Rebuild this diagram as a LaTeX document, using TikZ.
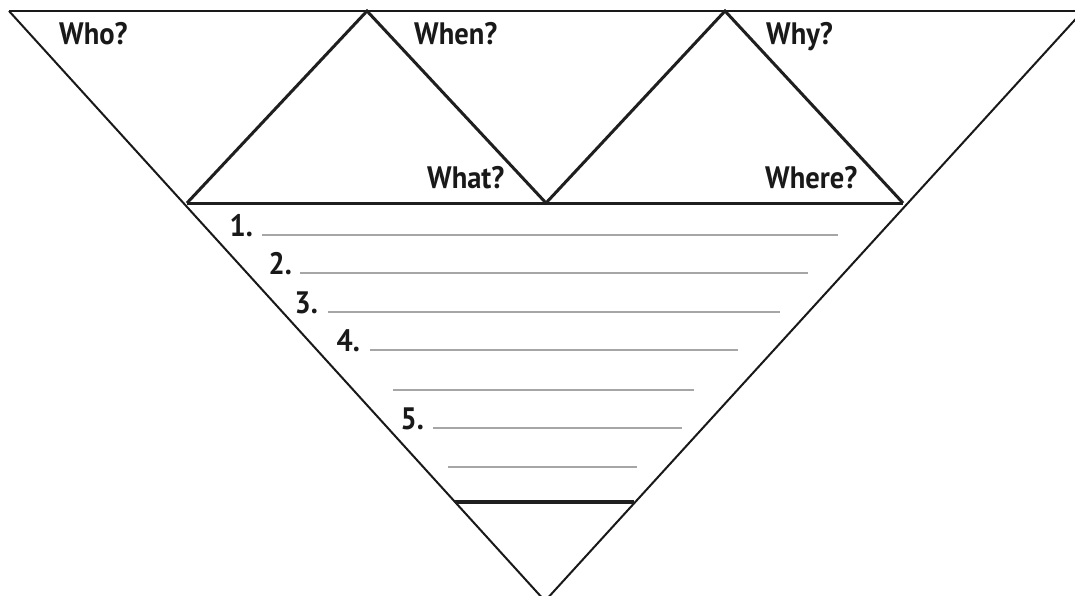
\documentclass[tikz,border=0pt]{standalone}
\usepackage{fontspec}
\newfontfamily\lab[FakeStretch=0.92]{PT Sans}
\begin{document}
\begin{tikzpicture}[x=1pt,y=-1pt,
  outer/.style={line width=2pt,draw=black!90},
  inner/.style={line width=3pt,draw=black!88},
  writeline/.style={line width=1.4pt,draw=black!35},
  lbl/.style={font=\lab\bfseries\fontsize{31}{31}\selectfont,inner sep=0pt,text=black!90},
  num/.style={lbl,anchor=base east}]
\useasboundingbox (0,0) rectangle (1075,595);
\fill[white] (0,0) rectangle (1075,595);
% vertices
\coordinate (TL) at (9,11);
\coordinate (TR) at (1083,11);
\coordinate (AP) at (545,601);
\coordinate (M1) at (187,203);
\coordinate (P1) at (367,11);
\coordinate (M2) at (546,203);
\coordinate (P2) at (725,11);
\coordinate (M3) at (903,203);
\coordinate (B1) at (455,502);
\coordinate (B2) at (634,502);
% outer triangle
\draw[outer] (TL) -- (TR);
\draw[outer] (TL) -- (AP) -- (TR);
% zigzag and middle line
\draw[inner,line join=miter] (M1) -- (P1) -- (M2) -- (P2) -- (M3);
\draw[inner] (M1) -- (M3);
\draw[line width=3.5pt,draw=black!88] (B1) -- (B2);
% labels
\node[lbl,anchor=base west] (who) at (59,44) {Who?};
\node[lbl,anchor=base west] (when) at (414,44) {When?};
\node[lbl,anchor=base west] (why) at (766,44) {Why?};
\node[lbl,anchor=base west] (what) at (427,188) {What?};
\node[lbl,anchor=base west] (where) at (765,188) {Where?};
% numbered lines
\node[num] (n1) at (253,236) {1.};
\node[num] (n2) at (292,274) {2.};
\node[num] (n3) at (318,313) {3.};
\node[num] (n4) at (360,351) {4.};
\node[num] (n5) at (424,429) {5.};
\coordinate (l1a) at (262,235); \coordinate (l1b) at (838,235);
\coordinate (l2a) at (300,273); \coordinate (l2b) at (808,273);
\coordinate (l3a) at (328,312); \coordinate (l3b) at (780,312);
\coordinate (l4a) at (370,350); \coordinate (l4b) at (738,350);
\coordinate (l4c) at (393,390); \coordinate (l4d) at (694,390);
\coordinate (l5a) at (433,428); \coordinate (l5b) at (682,428);
\coordinate (l5c) at (448,467); \coordinate (l5d) at (637,467);
\draw[writeline] (l1a) -- (l1b);
\draw[writeline] (l2a) -- (l2b);
\draw[writeline] (l3a) -- (l3b);
\draw[writeline] (l4a) -- (l4b);
\draw[writeline] (l4c) -- (l4d);
\draw[writeline] (l5a) -- (l5b);
\draw[writeline] (l5c) -- (l5d);
\end{tikzpicture}
\end{document}
